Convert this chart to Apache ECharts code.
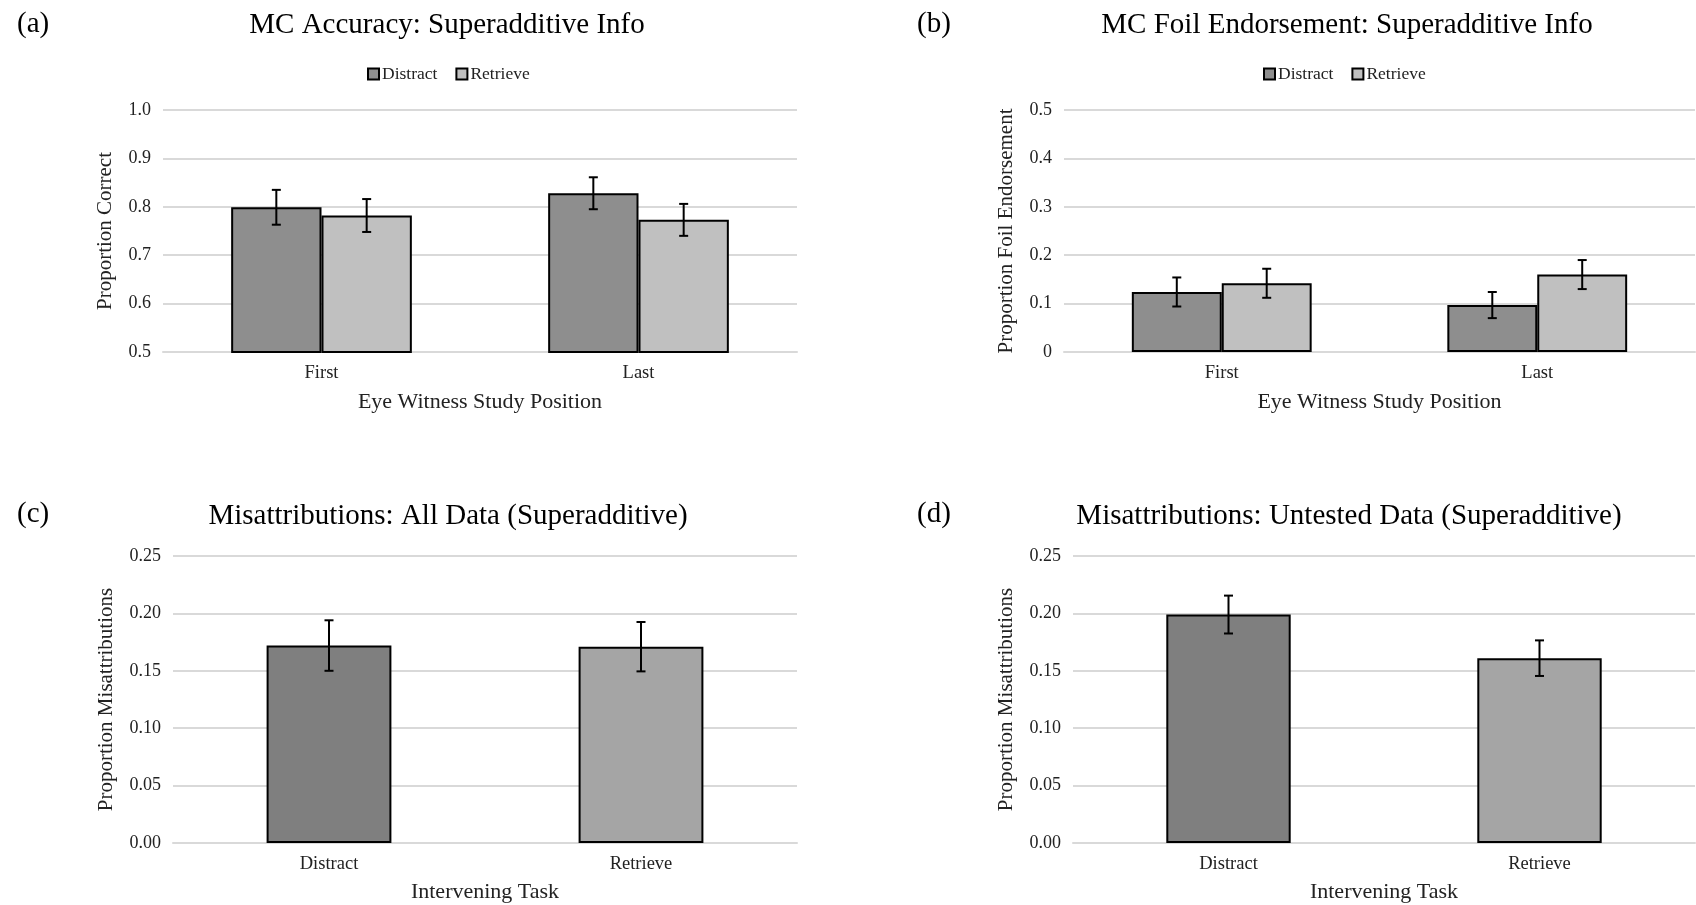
<!DOCTYPE html>
<html>
<head>
<meta charset="utf-8">
<script src="https://cdn.jsdelivr.net/npm/echarts@6/dist/echarts.min.js"></script>
<style>html,body{margin:0;padding:0;background:#fff;}#chart{width:1696px;height:905px;}</style>
</head>
<body>
<div id="chart"></div>
<script>
// ---- data ----
const catsAB = ['First', 'Last'];
const accDistract = [0.799, 0.828];
const accDistractErr = [0.036, 0.033];
const accRetrieve = [0.782, 0.773];
const accRetrieveErr = [0.034, 0.033];
const foilDistract = [0.124, 0.097];
const foilDistractErr = [0.030, 0.027];
const foilRetrieve = [0.142, 0.160];
const foilRetrieveErr = [0.030, 0.030];
const catsCD = ['Distract', 'Retrieve'];
const misAll = [0.172, 0.171];
const misAllErr = [0.022, 0.0215];
const misUntested = [0.199, 0.161];
const misUntestedErr = [0.0165, 0.0155];
const yTicksA = ['0.5', '0.6', '0.7', '0.8', '0.9', '1.0'];
const yTicksB = ['0', '0.1', '0.2', '0.3', '0.4', '0.5'];
const yTicksCD = ['0.00', '0.05', '0.10', '0.15', '0.20', '0.25'];

const FONT = 'Liberation Serif';
const TXT = '#222';
const colDA = '#8e8e8e', colRA = '#c0c0c0';
const colDC = '#7f7f7f', colRC = '#a5a5a5';

const chart = echarts.init(document.getElementById('chart'));

const grids = [
  {left: 163, top: 110, width: 634, height: 242},
  {left: 1064, top: 110, width: 631, height: 242},
  {left: 173, top: 556, width: 624, height: 287},
  {left: 1073, top: 556, width: 622, height: 287}
];

function xAx(idx, cats, name, gap) {
  return {
    type: 'category', gridIndex: idx, data: cats,
    name: name, nameLocation: 'middle', nameGap: gap,
    nameTextStyle: {fontFamily: FONT, fontSize: 22, color: TXT},
    axisLine: {show: true, lineStyle: {color: '#d9d9d9', width: 2}},
    axisTick: {show: false},
    axisLabel: {fontFamily: FONT, fontSize: 18.5, color: TXT, margin: 12}
  };
}
function yAx(idx, min, max, interval, ticks, name, gap) {
  return {
    type: 'value', gridIndex: idx, min: min, max: max, interval: interval,
    name: name, nameLocation: 'middle', nameGap: gap,
    nameTextStyle: {fontFamily: FONT, fontSize: 21, color: TXT},
    axisLine: {show: false}, axisTick: {show: false},
    splitLine: {lineStyle: {color: '#d9d9d9', width: 2}},
    axisLabel: {fontFamily: FONT, fontSize: 18, color: TXT, margin: 12,
      formatter: function (v) {
        const i = Math.round((v - min) / interval);
        return ticks[i] !== undefined ? ticks[i] : '';
      }}
  };
}

function errSeries(name, idx, vals, errs, offFrac) {
  return {
    type: 'custom', name: name, xAxisIndex: idx, yAxisIndex: idx, z: 10,
    silent: true,
    data: vals.map((v, i) => [i, v, errs[i], offFrac]),
    renderItem: function (params, api) {
      const x = api.value(0), v = api.value(1), e = api.value(2), off = api.value(3);
      const band = api.size([1, 0])[0];
      const p1 = api.coord([x, v + e]);
      const p2 = api.coord([x, v - e]);
      const cx = p1[0] + off * band;
      const hw = 4.5;
      const st = {stroke: '#000', lineWidth: 2};
      return {type: 'group', children: [
        {type: 'line', shape: {x1: cx, y1: p1[1], x2: cx, y2: p2[1]}, style: st},
        {type: 'line', shape: {x1: cx - hw, y1: p1[1], x2: cx + hw, y2: p1[1]}, style: st},
        {type: 'line', shape: {x1: cx - hw, y1: p2[1], x2: cx + hw, y2: p2[1]}, style: st}
      ]};
    }
  };
}

const gapAB = 0.43;
const offAB = (1 - gapAB) / 4;
const barBorder = {borderColor: '#000', borderWidth: 2};

function titleItem(text, x, y, align) {
  return {text: text, left: x, top: y, textAlign: align || 'left',
    textStyle: {fontFamily: FONT, fontSize: 29, fontWeight: 'normal', color: '#000'}};
}

const legendBase = {
  data: ['Distract', 'Retrieve'], top: 60,
  icon: 'rect', itemWidth: 11, itemHeight: 11, itemGap: 18,
  textStyle: {fontFamily: FONT, fontSize: 17.5, color: TXT, padding: [0, 0, 0, -2]}
};

const option = {
  animation: false,
  backgroundColor: '#fff',
  title: [
    titleItem('(a)', 12, 5),
    titleItem('MC Accuracy: Superadditive Info', 442, 6, 'center'),
    titleItem('(b)', 912, 5),
    titleItem('MC Foil Endorsement: Superadditive Info', 1342, 6, 'center'),
    titleItem('(c)', 12, 495),
    titleItem('Misattributions: All Data (Superadditive)', 443, 497, 'center'),
    titleItem('(d)', 912, 495),
    titleItem('Misattributions: Untested Data (Superadditive)', 1344, 497, 'center')
  ],
  legend: [
    Object.assign({left: 362}, legendBase),
    Object.assign({left: 1258}, legendBase)
  ],
  grid: grids,
  xAxis: [
    xAx(0, catsAB, 'Eye Witness Study Position', 39),
    xAx(1, catsAB, 'Eye Witness Study Position', 39),
    xAx(2, catsCD, 'Intervening Task', 38),
    xAx(3, catsCD, 'Intervening Task', 38)
  ],
  yAxis: [
    yAx(0, 0.5, 1.0, 0.1, yTicksA, 'Proportion Correct', 47),
    yAx(1, 0, 0.5, 0.1, yTicksB, 'Proportion Foil Endorsement', 47),
    yAx(2, 0, 0.25, 0.05, yTicksCD, 'Proportion Misattributions', 56),
    yAx(3, 0, 0.25, 0.05, yTicksCD, 'Proportion Misattributions', 56)
  ],
  series: [
    {type: 'bar', name: 'Distract', xAxisIndex: 0, yAxisIndex: 0, data: accDistract,
     barGap: '0%', barCategoryGap: '43%', itemStyle: Object.assign({color: colDA}, barBorder)},
    {type: 'bar', name: 'Retrieve', xAxisIndex: 0, yAxisIndex: 0, data: accRetrieve,
     barGap: '0%', barCategoryGap: '43%', itemStyle: Object.assign({color: colRA}, barBorder)},
    {type: 'bar', name: 'Distract', xAxisIndex: 1, yAxisIndex: 1, data: foilDistract,
     barGap: '0%', barCategoryGap: '43%', itemStyle: Object.assign({color: colDA}, barBorder)},
    {type: 'bar', name: 'Retrieve', xAxisIndex: 1, yAxisIndex: 1, data: foilRetrieve,
     barGap: '0%', barCategoryGap: '43%', itemStyle: Object.assign({color: colRA}, barBorder)},
    {type: 'bar', name: 'All Data', xAxisIndex: 2, yAxisIndex: 2, barCategoryGap: '60%',
     data: misAll.map((v, i) => ({value: v, itemStyle: {color: i === 0 ? colDC : colRC}})),
     itemStyle: barBorder},
    {type: 'bar', name: 'Untested Data', xAxisIndex: 3, yAxisIndex: 3, barCategoryGap: '60%',
     data: misUntested.map((v, i) => ({value: v, itemStyle: {color: i === 0 ? colDC : colRC}})),
     itemStyle: barBorder},
    errSeries('errAD', 0, accDistract, accDistractErr, -offAB),
    errSeries('errAR', 0, accRetrieve, accRetrieveErr, offAB),
    errSeries('errBD', 1, foilDistract, foilDistractErr, -offAB),
    errSeries('errBR', 1, foilRetrieve, foilRetrieveErr, offAB),
    errSeries('errC', 2, misAll, misAllErr, 0),
    errSeries('errD', 3, misUntested, misUntestedErr, 0)
  ]
};
chart.setOption(option);
</script>
</body>
</html>
